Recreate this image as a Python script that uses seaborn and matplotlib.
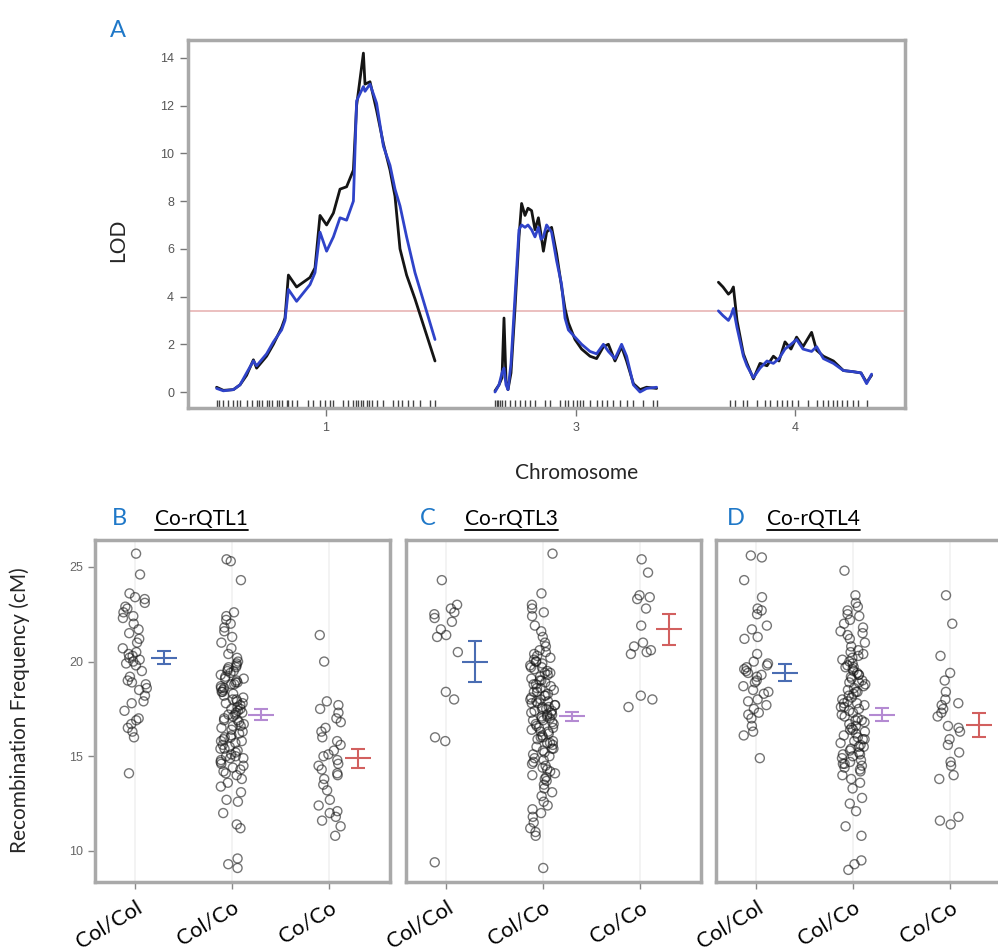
import numpy as np
import pandas as pd
import matplotlib
matplotlib.use("Agg")
import matplotlib.pyplot as plt
import seaborn as sns
from matplotlib.lines import Line2D

sns.set_theme(style="ticks")
plt.rcParams['font.family'] = ['Lato', 'DejaVu Sans']

# ---------------- Panel A data (LOD scans) ----------------
chromosomes = ["1", "3", "4"]
chr_offsets = [0, 140, 251]

chr1_pos = [0.8, 4.2, 9.2, 12.5, 15.8, 19.2, 20.8, 25.8, 29.2, 33.3, 35.0, 36.7, 40.8, 47.5, 50.0,
            52.5, 55.8, 59.2, 62.5, 65.8, 69.2, 70.8, 74.2, 75.0, 77.5, 80.8, 84.2, 87.5, 90.0,
            92.5, 95.8, 100.0, 110.0]
chr1_lod_black = [0.2, 0.07, 0.1, 0.3, 0.7, 1.35, 1.0, 1.5, 2.0, 2.7, 3.1, 4.9, 4.4, 4.8, 5.2,
                  7.4, 7.0, 7.5, 8.5, 8.6, 9.3, 12.0, 14.2, 12.9, 13.0, 11.8, 10.4, 9.3, 8.2,
                  6.0, 4.9, 3.9, 1.3]
chr1_lod_blue = [0.15, 0.05, 0.1, 0.3, 0.8, 1.3, 1.1, 1.6, 2.1, 2.6, 3.0, 4.3, 3.8, 4.5, 5.0,
                 6.7, 5.9, 6.5, 7.3, 7.2, 8.0, 12.2, 12.8, 12.6, 12.9, 12.1, 10.3, 9.5, 8.5,
                 7.8, 6.5, 5.0, 2.2]

chr3_pos = [0.0, 2.0, 3.5, 4.5, 5.5, 6.5, 8.0, 10.0, 12.0, 13.3, 15.0, 16.5, 18.3, 20.0, 21.7,
            23.0, 24.2, 25.8, 28.3, 30.8, 33.3, 35.0, 36.7, 40.0, 43.3, 47.5, 50.8, 54.2, 56.7,
            60.0, 63.3, 65.8, 69.2, 72.5, 75.8, 80.8]
chr3_lod_black = [0.05, 0.3, 0.6, 3.1, 0.5, 0.1, 0.8, 3.5, 6.5, 7.9, 7.4, 7.7, 7.6, 6.8, 7.3,
                  6.6, 5.9, 6.7, 6.9, 5.8, 4.4, 3.5, 2.9, 2.2, 1.8, 1.5, 1.4, 1.9, 2.0,
                  1.3, 1.9, 1.3, 0.35, 0.1, 0.2, 0.15]
chr3_lod_blue = [0.0, 0.3, 0.8, 1.0, 0.3, 0.1, 1.2, 4.0, 6.8, 7.0, 6.9, 7.0, 6.8, 6.5, 6.9,
                 6.4, 6.5, 7.0, 6.7, 5.5, 4.5, 3.1, 2.6, 2.3, 2.0, 1.7, 1.6, 2.0, 1.7,
                 1.4, 2.0, 1.5, 0.3, 0.0, 0.15, 0.2]

chr4_pos = [0.7, 3.0, 5.7, 7.0, 8.2, 10.0, 13.2, 15.0, 18.2, 21.5, 25.0, 28.2, 31.0, 34.0, 37.0,
            39.8, 43.0, 47.3, 49.8, 53.2, 58.2, 63.2, 68.2, 72.0, 74.8, 77.3]
chr4_lod_black = [4.6, 4.4, 4.1, 4.2, 4.4, 3.0, 1.6, 1.2, 0.55, 1.2, 1.1, 1.5, 1.3, 2.1, 1.8,
                  2.3, 1.9, 2.5, 1.75, 1.5, 1.3, 0.9, 0.85, 0.8, 0.4, 0.7]
chr4_lod_blue = [3.4, 3.2, 3.0, 3.2, 3.5, 2.7, 1.5, 1.1, 0.6, 1.0, 1.3, 1.2, 1.4, 1.8, 2.0,
                 2.2, 1.8, 1.7, 1.9, 1.4, 1.2, 0.9, 0.85, 0.8, 0.35, 0.75]

chr1_markers = [0.8, 2.0, 4.2, 6.7, 9.2, 11.0, 12.5, 15.8, 18.3, 20.8, 22.0, 23.3, 25.8, 27.0,
                28.3, 30.8, 32.0, 33.3, 35.8, 36.5, 38.3, 40.8, 46.7, 49.2, 52.5, 55.0, 57.5,
                59.2, 64.2, 66.7, 69.2, 70.5, 71.7, 73.0, 74.2, 75.8, 77.0, 78.3, 80.8, 84.2,
                89.2, 91.7, 93.3, 96.7, 99.2, 102.5, 107.5, 110.0]
chr3_markers = [0.0, 0.8, 1.7, 2.5, 3.3, 5.0, 7.5, 10.0, 12.5, 15.0, 17.5, 20.0, 25.0, 27.5,
                32.5, 35.0, 36.7, 39.2, 40.8, 42.5, 44.2, 47.5, 50.8, 53.3, 55.8, 59.2, 62.5,
                65.8, 69.2, 74.2, 79.2, 80.8]
chr4_markers = [6.5, 9.0, 13.2, 14.8, 19.8, 24.0, 26.5, 29.8, 32.3, 34.8, 37.3, 40.7, 45.7,
                49.8, 53.2, 55.7, 58.2, 59.8, 62.3, 64.8, 68.2, 70.7, 74.8]

lod_threshold = 3.4

# ---------------- Panels B-D data ----------------
genotypes = ["Col/Col", "Col/Co", "Co/Co"]
panel_letters = ["B", "C", "D"]
panel_titles = ["Co-rQTL1", "Co-rQTL3", "Co-rQTL4"]

B_ColCol = [25.7, 24.6, 23.6, 23.4, 23.3, 23.1, 22.9, 22.8, 22.6, 22.4, 22.3, 22.0, 21.7, 21.5,
            21.2, 21.0, 20.7, 20.5, 20.4, 20.3, 20.2, 20.1, 20.0, 19.9, 19.8, 19.5, 19.2, 19.0,
            18.9, 18.8, 18.6, 18.5, 18.2, 17.9, 17.8, 17.4, 17.0, 16.9, 16.7, 16.5, 16.3, 16.0,
            14.1]
B_ColCo = [25.4, 25.3, 24.3, 22.6, 22.4, 22.2, 22.0, 21.8, 21.6, 21.3, 21.0, 20.7, 20.4, 20.2,
           20.0, 19.9, 19.8, 19.7, 19.7, 19.6, 19.5, 19.5, 19.4, 19.3, 19.2, 19.1, 19.1, 19.0,
           18.9, 18.9, 18.8, 18.8, 18.7, 18.6, 18.6, 18.5, 18.4, 18.4, 18.3, 18.2, 18.1, 18.0,
           18.0, 17.9, 17.8, 17.8, 17.7, 17.6, 17.5, 17.5, 17.4, 17.3, 17.3, 17.2, 17.2, 17.1,
           17.0, 16.9, 16.9, 16.8, 16.7, 16.6, 16.6, 16.5, 16.4, 16.3, 16.2, 16.1, 16.0, 16.0,
           15.9, 15.8, 15.8, 15.7, 15.6, 15.5, 15.4, 15.4, 15.3, 15.2, 15.1, 15.0, 15.0, 14.9,
           14.9, 14.8, 14.7, 14.6, 14.5, 14.4, 14.3, 14.2, 14.1, 14.0, 13.8, 13.6, 13.4, 13.1,
           12.7, 12.6, 12.0, 11.4, 11.2, 9.6, 9.3, 9.1]
B_CoCo = [21.4, 20.0, 17.9, 17.7, 17.5, 17.3, 17.0, 16.8, 16.5, 16.3, 16.0, 15.8, 15.6, 15.3,
          15.1, 15.0, 14.8, 14.6, 14.5, 14.3, 14.1, 14.0, 13.8, 13.5, 13.2, 12.7, 12.4, 12.1,
          12.0, 11.8, 11.6, 11.3, 10.8]

C_ColCol = [24.3, 23.0, 22.8, 22.6, 22.5, 22.3, 22.1, 21.7, 21.4, 21.3, 20.5, 18.4, 18.0, 16.0,
            15.8, 9.4]
C_ColCo = [25.7, 23.6, 23.0, 22.8, 22.6, 22.4, 21.9, 21.6, 21.3, 21.0, 20.8, 20.6, 20.5, 20.4,
           20.3, 20.2, 20.1, 20.0, 20.0, 19.9, 19.8, 19.7, 19.7, 19.6, 19.5, 19.4, 19.4, 19.3,
           19.2, 19.1, 19.0, 19.0, 18.9, 18.8, 18.8, 18.7, 18.6, 18.6, 18.5, 18.4, 18.4, 18.3,
           18.2, 18.2, 18.1, 18.0, 18.0, 17.9, 17.9, 17.8, 17.8, 17.7, 17.7, 17.6, 17.6, 17.5,
           17.5, 17.4, 17.4, 17.3, 17.3, 17.2, 17.2, 17.1, 17.1, 17.0, 17.0, 16.9, 16.9, 16.8,
           16.7, 16.7, 16.6, 16.5, 16.5, 16.4, 16.3, 16.3, 16.2, 16.1, 16.0, 16.0, 15.9, 15.8,
           15.7, 15.7, 15.6, 15.5, 15.4, 15.4, 15.3, 15.2, 15.1, 15.0, 14.9, 14.8, 14.7, 14.6,
           14.5, 14.4, 14.3, 14.2, 14.1, 14.0, 13.9, 13.8, 13.7, 13.5, 13.3, 13.1, 12.9, 12.6,
           12.4, 12.2, 12.0, 11.8, 11.5, 11.2, 11.0, 10.8, 9.1]
C_CoCo = [25.4, 24.7, 23.5, 23.4, 23.3, 22.8, 21.9, 21.0, 20.8, 20.6, 20.5, 20.4, 18.2, 18.0,
          17.6]

D_ColCol = [25.6, 25.5, 24.3, 23.4, 22.8, 22.7, 22.5, 21.9, 21.7, 21.3, 21.2, 20.4, 20.0, 19.9,
            19.8, 19.7, 19.6, 19.5, 19.4, 19.3, 19.2, 19.0, 18.9, 18.7, 18.5, 18.4, 18.3, 18.0,
            17.9, 17.7, 17.5, 17.3, 17.2, 17.0, 16.6, 16.3, 16.1, 14.9]
D_ColCo = [24.8, 23.5, 23.1, 22.9, 22.7, 22.5, 22.4, 22.2, 22.0, 21.8, 21.6, 21.5, 21.4, 21.2,
           21.0, 20.8, 20.6, 20.5, 20.4, 20.3, 20.2, 20.1, 20.0, 19.9, 19.8, 19.7, 19.7, 19.6,
           19.5, 19.4, 19.3, 19.3, 19.2, 19.1, 19.0, 18.9, 18.9, 18.8, 18.7, 18.6, 18.5, 18.4,
           18.4, 18.3, 18.2, 18.1, 18.0, 17.9, 17.8, 17.8, 17.7, 17.6, 17.6, 17.5, 17.4, 17.3,
           17.2, 17.1, 17.0, 16.9, 16.9, 16.8, 16.7, 16.6, 16.5, 16.4, 16.4, 16.3, 16.2, 16.1,
           16.0, 15.9, 15.9, 15.8, 15.7, 15.6, 15.5, 15.5, 15.4, 15.3, 15.2, 15.1, 15.1, 15.0,
           14.9, 14.8, 14.7, 14.6, 14.6, 14.5, 14.4, 14.3, 14.2, 14.0, 13.8, 13.6, 13.3, 12.8,
           12.5, 12.1, 11.3, 10.8, 9.5, 9.3, 9.0]
D_CoCo = [23.5, 22.0, 20.3, 19.4, 19.0, 18.4, 18.0, 17.8, 17.7, 17.5, 17.3, 17.1, 16.6, 16.5,
          16.3, 15.9, 15.6, 15.2, 14.7, 14.5, 14.0, 13.8, 11.8, 11.6, 11.4]

B_mean = [20.2, 17.2, 14.9]
B_se = [0.35, 0.3, 0.5]
C_mean = [20.0, 17.1, 21.7]
C_se = [1.1, 0.25, 0.8]
D_mean = [19.4, 17.2, 16.65]
D_se = [0.45, 0.35, 0.65]

err_colors = ["#4a6db3", "#b48ad2", "#d2605f"]

W, H = 998, 952
fig = plt.figure(figsize=(W / 100, H / 100), dpi=100)
fig.patch.set_facecolor("white")

tick_font = ['Liberation Sans', 'DejaVu Sans']
spine_col = "#a9a9a9"

# ================= Panel A =================
axA = fig.add_axes([188 / W, 1 - 408 / H, 717 / W, 368 / H])
chr_pos = [chr1_pos, chr3_pos, chr4_pos]
chr_black = [chr1_lod_black, chr3_lod_black, chr4_lod_black]
chr_blue = [chr1_lod_blue, chr3_lod_blue, chr4_lod_blue]
chr_markers = [chr1_markers, chr3_markers, chr4_markers]
mid_ticks = []
for off, pos, lb, lu, mk in zip(chr_offsets, chr_pos, chr_black, chr_blue, chr_markers):
    x = np.array(pos) + off
    sns.lineplot(x=x, y=lb, color="#151515", lw=2.0, ax=axA, estimator=None, sort=False)
    sns.lineplot(x=x, y=lu, color="#2f43c9", lw=2.0, ax=axA, estimator=None, sort=False)
    sns.rugplot(x=np.array(mk) + off, height=0.022, color="#444444", lw=0.8, ax=axA,
                expand_margins=False)
    mid_ticks.append(off + (max(mk + pos) + min(mk + pos)) / 2)
axA.axhline(lod_threshold, color="#e8b4b4", lw=1.2, zorder=0)
axA.set_xlim(-13.5, 345)
axA.set_ylim(-0.67, 14.75)
axA.set_yticks(range(0, 15, 2))
axA.set_xticks(mid_ticks)
axA.set_xticklabels(chromosomes)
axA.set_xlabel("")
axA.set_ylabel("")
for s in axA.spines.values():
    s.set_color(spine_col)
    s.set_linewidth(2.5)
axA.tick_params(axis="both", colors="#777777", labelsize=9, length=6, width=1,
                labelcolor="#555555", pad=4)
for t in axA.get_xticklabels() + axA.get_yticklabels():
    t.set_family(tick_font)

fig.text(110 / W, 1 - 37 / H, "A", color="#1f78c8", fontsize=17, va="baseline", ha="left")
fig.text(118 / W, 1 - 240 / H, "LOD", rotation=90, fontsize=15, ha="center", va="center")
fig.text(577 / W, 1 - 473 / H, "Chromosome", fontsize=15, ha="center", va="center")

# ================= Panels B-D =================
panel_data = [[B_ColCol, B_ColCo, B_CoCo], [C_ColCol, C_ColCo, C_CoCo], [D_ColCol, D_ColCo, D_CoCo]]
panel_means = [B_mean, C_mean, D_mean]
panel_ses = [B_se, C_se, D_se]
lefts = [95, 406, 716]
letter_x = [112, 420, 727]
title_x = [155, 465, 767]

np.random.seed(3)
renderer = fig.canvas.get_renderer()
for i in range(3):
    ax = fig.add_axes([lefts[i] / W, 1 - 882 / H, 295 / W, 342 / H])
    rows = []
    for g, vals in zip(genotypes, panel_data[i]):
        for v in vals:
            rows.append((g, v))
    df = pd.DataFrame(rows, columns=["genotype", "value"])
    sns.stripplot(data=df, x="genotype", y="value", order=genotypes, jitter=0.13,
                  color="black", size=6.5, linewidth=1.0, ax=ax)
    for coll in ax.collections:
        coll.set_facecolor("none")
        coll.set_edgecolor((0.1, 0.1, 0.1, 0.6))
        coll.set_linewidth(1.0)
    for k in range(3):
        xc = k + 0.3
        m, se = panel_means[i][k], panel_ses[i][k]
        ax.errorbar([xc], [m], yerr=[se], color=err_colors[k], capsize=5, capthick=1.5,
                    elinewidth=1.5, fmt="none", zorder=5)
        ax.hlines(m, xc - 0.13, xc + 0.13, color=err_colors[k], lw=1.5, zorder=5)
    ax.set_xlim(-0.41, 2.63)
    ax.set_ylim(8.36, 26.42)
    ax.set_yticks([10, 15, 20, 25])
    ax.set_xlabel("")
    ax.set_ylabel("")
    ax.grid(axis="x", color="#f1f1f1", lw=1.2)
    ax.set_axisbelow(True)
    for s in ax.spines.values():
        s.set_color(spine_col)
        s.set_linewidth(2.5)
    ax.tick_params(axis="x", colors="#888888", length=5, width=1, labelcolor="black", pad=6)
    ax.set_xticks(range(3))
    ax.set_xticklabels(genotypes, rotation=31, ha="right", rotation_mode="anchor",
                       fontsize=15.5)
    if i == 0:
        ax.tick_params(axis="y", colors="#888888", length=5, width=1, labelsize=9,
                       labelcolor="#666666")
        for t in ax.get_yticklabels():
            t.set_family(tick_font)
    else:
        ax.tick_params(axis="y", left=False, labelleft=False)

    fig.text(letter_x[i] / W, 1 - 525 / H, panel_letters[i], color="#1f78c8", fontsize=17,
             va="baseline", ha="left")
    tt = fig.text(title_x[i] / W, 1 - 525 / H, panel_titles[i], color="black", fontsize=15,
                  va="baseline", ha="left")
    bb = tt.get_window_extent(renderer).transformed(fig.transFigure.inverted())
    yline = 1 - 530 / H
    fig.add_artist(Line2D([bb.x0, bb.x1], [yline, yline], color="black", lw=1.3,
                          transform=fig.transFigure))

fig.text(20 / W, 1 - 710 / H, "Recombination Frequency (cM)", rotation=90, fontsize=15,
         ha="center", va="center")

fig.savefig("out.png", dpi=100, facecolor="white")
